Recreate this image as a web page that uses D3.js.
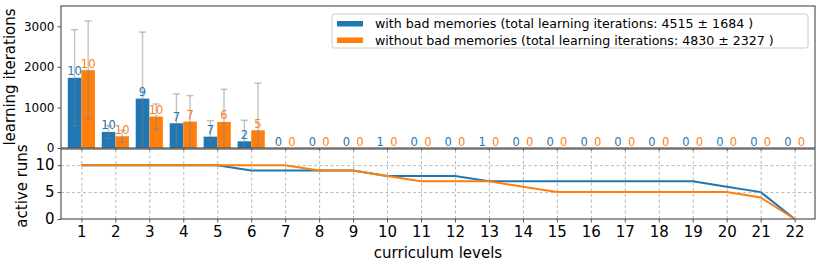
<!DOCTYPE html>
<html>
<head>
<meta charset="utf-8">
<script src="https://cdn.jsdelivr.net/npm/d3@7"></script>
<style>
  body { margin: 0; background: #fff; }
  text { font-family: "DejaVu Sans", sans-serif; }
</style>
</head>
<body>
<svg id="chart" width="822" height="264"></svg>
<script>
// curriculum levels and the two conditions
const LEVELS = d3.range(1, 23);
const SERIES = ["with bad memories (total learning iterations: 4515 \u00b1 1684 )",
                "without bad memories (total learning iterations: 4830 \u00b1 2327 )"];
const COLORS = ["#1f77b4", "#ff7f0e"];

// mean learning iterations per level
const withMean    = [1730, 395, 1217, 610, 280, 165, 0, 0, 0, 0, 0, 0, 0, 0, 0, 0, 0, 0, 0, 0, 0, 0];
const withStd     = [1186, 155, 1640, 723, 395, 519, 0, 0, 0, 0, 0, 0, 0, 0, 0, 0, 0, 0, 0, 0, 0, 0];
const withoutMean = [1918, 289, 773, 650, 642, 437, 0, 0, 0, 0, 0, 0, 0, 0, 0, 0, 0, 0, 0, 0, 0, 0];
const withoutStd  = [1210, 145, 313, 642, 807, 1160, 0, 0, 0, 0, 0, 0, 0, 0, 0, 0, 0, 0, 0, 0, 0, 0];

// number of runs counted above each bar
const withCount    = [10, 10, 9, 7, 7, 2, 0, 0, 0, 1, 0, 0, 1, 0, 0, 0, 0, 0, 0, 0, 0, 0];
const withoutCount = [10, 10, 10, 7, 6, 5, 0, 0, 0, 0, 0, 0, 0, 0, 0, 0, 0, 0, 0, 0, 0, 0];

// active runs per level (lower panel)
const withActive    = [10, 10, 10, 10, 10, 9, 9, 9, 9, 8, 8, 8, 7, 7, 7, 7, 7, 7, 7, 6, 5, 0];
const withoutActive = [10, 10, 10, 10, 10, 10, 10, 9, 9, 8, 7, 7, 7, 6, 5, 5, 5, 5, 5, 5, 4, 0];

const TOP_TICKS = [0, 1000, 2000, 3000];
const BOTTOM_TICKS = [0, 5, 10];

const svg = d3.select('#chart');
const LEFT = 61, RIGHT = 815;
const TOP = { y0: 6, y1: 148 };
const BOT = { y0: 149, y1: 219 };
const BAR_W = 0.4;

const x = d3.scaleLinear().domain([0.4, 22.6]).range([LEFT, RIGHT]);
const yTop = d3.scaleLinear().domain([0, 3500]).range([TOP.y1, TOP.y0]);
const yBot = d3.scaleLinear().domain([0, 13]).range([BOT.y1, BOT.y0]);

const barData = [];
LEVELS.forEach((lv, i) => {
  barData.push({lv, s: 0, mean: withMean[i], std: withStd[i], n: withCount[i]});
  barData.push({lv, s: 1, mean: withoutMean[i], std: withoutStd[i], n: withoutCount[i]});
});
const offset = d => d.s === 0 ? -BAR_W : 0;
const centre = d => x(d.lv + offset(d) + BAR_W / 2);

svg.append('defs').append('clipPath').attr('id', 'clipTop')
  .append('rect').attr('x', LEFT).attr('y', TOP.y0).attr('width', RIGHT - LEFT).attr('height', TOP.y1 - TOP.y0);

//* top panel *//
const topPanel = svg.append('g');

topPanel.selectAll('.bar')
  .data(barData.filter(d => d.mean > 0))
  .enter()
  .append('rect')
  .attr('x', d => x(d.lv + offset(d)))
  .attr('width', x(BAR_W) - x(0))
  .attr('y', d => yTop(d.mean))
  .attr('height', d => yTop(0) - yTop(d.mean))
  .attr('fill', d => COLORS[d.s]);

// error bars
const err = topPanel.append('g').attr('clip-path', 'url(#clipTop)')
  .attr('stroke', '#7f7f7f').attr('stroke-opacity', 0.45).attr('stroke-width', 1.5);
barData.filter(d => d.std > 0).forEach(d => {
  const cx = centre(d);
  err.append('line').attr('x1', cx).attr('x2', cx)
    .attr('y1', yTop(d.mean + d.std)).attr('y2', yTop(d.mean - d.std));
  [d.mean + d.std, d.mean - d.std].forEach(v => {
    err.append('line').attr('x1', cx - 3.5).attr('x2', cx + 3.5)
      .attr('y1', yTop(v)).attr('y2', yTop(v));
  });
});

// counts above bars
topPanel.selectAll('.label')
  .data(barData)
  .enter()
  .append('text')
  .text(d => d.n)
  .attr('x', d => centre(d))
  .attr('y', d => yTop(d.mean) - 2.5)
  .attr('text-anchor', 'middle')
  .attr('font-size', '11.5px')
  .attr('fill', d => COLORS[d.s]);

// axes
const topY = topPanel.append('g')
  .attr('transform', `translate(${LEFT},0)`)
  .call(d3.axisLeft(yTop).tickValues(TOP_TICKS).tickFormat(d3.format('d'))
    .tickSize(3.5).tickPadding(3).tickSizeOuter(0));
topY.select('.domain').remove();
topY.selectAll('text').attr('font-size', '12px').attr('font-family', 'DejaVu Sans').attr('fill', '#000');
topY.selectAll('line').attr('stroke', '#555');

const topX = topPanel.append('g')
  .attr('transform', `translate(0,${TOP.y1})`)
  .call(d3.axisBottom(x).tickValues(LEVELS).tickSize(3).tickFormat(''));
topX.select('.domain').remove();
topX.selectAll('line').attr('stroke', '#555');

topPanel.append('rect')
  .attr('x', LEFT).attr('y', TOP.y0).attr('width', RIGHT - LEFT).attr('height', TOP.y1 - TOP.y0)
  .attr('fill', 'none').attr('stroke', '#555').attr('stroke-width', 1.2);

topPanel.append('text')
  .attr('transform', `translate(15,${(TOP.y0 + TOP.y1) / 2}) rotate(-90)`)
  .attr('text-anchor', 'middle')
  .attr('font-size', '15px')
  .text('learning iterations');

// legend
const legend = svg.append('g').attr('transform', 'translate(332,14)');
legend.append('rect')
  .attr('width', 476).attr('height', 34).attr('rx', 2.5)
  .attr('fill', '#fff').attr('fill-opacity', 0.8)
  .attr('stroke', '#ccc').attr('stroke-width', 1);
SERIES.forEach((s, i) => {
  legend.append('rect')
    .attr('x', 5).attr('y', 7 + i * 16.5).attr('width', 26).attr('height', 5.5)
    .attr('fill', COLORS[i]);
  legend.append('text')
    .attr('x', 43).attr('y', 14 + i * 16.5)
    .attr('font-size', '12.6px')
    .text(s);
});

//* bottom panel *//
const botPanel = svg.append('g');

const gridY = botPanel.append('g')
  .attr('transform', `translate(${LEFT},0)`)
  .call(d3.axisLeft(yBot).tickValues([5, 10]).tickSize(-(RIGHT - LEFT)).tickFormat(''));
gridY.select('.domain').remove();
gridY.selectAll('line').attr('stroke', '#b0b0b0').attr('stroke-dasharray', '3,2.5').attr('stroke-width', 0.9);

const gridX = botPanel.append('g')
  .attr('transform', `translate(0,${BOT.y1})`)
  .call(d3.axisBottom(x).tickValues(LEVELS).tickSize(-(BOT.y1 - BOT.y0)).tickFormat(''));
gridX.select('.domain').remove();
gridX.selectAll('line').attr('stroke', '#b0b0b0').attr('stroke-dasharray', '3,2.5').attr('stroke-width', 0.9);

const line = d3.line().x((d, i) => x(LEVELS[i])).y(d => yBot(d));
[withActive, withoutActive].forEach((vals, i) => {
  botPanel.append('path')
    .datum(vals)
    .attr('d', line)
    .attr('fill', 'none')
    .attr('stroke', COLORS[i])
    .attr('stroke-width', 2);
});

const botY = botPanel.append('g')
  .attr('transform', `translate(${LEFT},0)`)
  .call(d3.axisLeft(yBot).tickValues(BOTTOM_TICKS).tickSize(3.5).tickPadding(3).tickSizeOuter(0));
botY.select('.domain').remove();
botY.selectAll('text').attr('font-size', '15px').attr('font-family', 'DejaVu Sans').attr('fill', '#000');
botY.selectAll('line').attr('stroke', '#555');

const botX = botPanel.append('g')
  .attr('transform', `translate(0,${BOT.y1})`)
  .call(d3.axisBottom(x).tickValues(LEVELS).tickSize(3.5).tickPadding(4).tickSizeOuter(0));
botX.select('.domain').remove();
botX.selectAll('text').attr('font-size', '15px').attr('font-family', 'DejaVu Sans').attr('fill', '#000');
botX.selectAll('line').attr('stroke', '#555');

botPanel.append('rect')
  .attr('x', LEFT).attr('y', BOT.y0).attr('width', RIGHT - LEFT).attr('height', BOT.y1 - BOT.y0)
  .attr('fill', 'none').attr('stroke', '#555').attr('stroke-width', 1.2);

botPanel.append('text')
  .attr('transform', `translate(27,${(BOT.y0 + BOT.y1) / 2 + 2}) rotate(-90)`)
  .attr('text-anchor', 'middle')
  .attr('font-size', '15px')
  .text('active runs');

svg.append('text')
  .attr('x', (LEFT + RIGHT) / 2).attr('y', 258)
  .attr('text-anchor', 'middle')
  .attr('font-size', '15px')
  .text('curriculum levels');
</script>
</body>
</html>
